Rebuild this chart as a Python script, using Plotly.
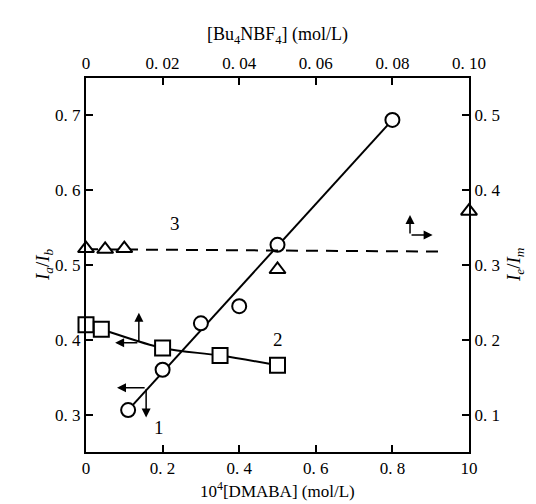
import plotly.graph_objects as go

# ---- data ----
# curve 1: I_a/I_b vs 10^4[DMABA] (bottom x, left y)
dmaba = [0.11, 0.20, 0.30, 0.40, 0.50, 0.80]
ratio1 = [0.306, 0.360, 0.422, 0.445, 0.527, 0.694]
fit1_x = [0.11, 0.80]
fit1_y = [0.306, 0.694]

# curve 2: I_a/I_b vs [Bu4NBF4] (top x, left y)
salt2 = [0.0, 0.004, 0.020, 0.035, 0.050]
ratio2 = [0.420, 0.414, 0.389, 0.379, 0.366]

# curve 3: I_e/I_m vs [Bu4NBF4] (top x, right y)
salt3 = [0.0, 0.005, 0.010, 0.050, 0.100]
ratio3 = [0.322, 0.321, 0.322, 0.294, 0.372]
dash3_x = [0.0, 0.093]
dash3_y = [0.321, 0.318]

bottom_ticks = [0, 0.2, 0.4, 0.6, 0.8, 1.0]
bottom_text = ["0", "0. 2", "0. 4", "0. 6", "0. 8", "10"]
top_ticks = [0, 0.02, 0.04, 0.06, 0.08, 0.10]
top_text = ["0", "0. 02", "0. 04", "0. 06", "0. 08", "0. 10"]
left_ticks = [0.3, 0.4, 0.5, 0.6, 0.7]
left_text = ["0. 3", "0. 4", "0. 5", "0. 6", "0. 7"]
right_ticks = [0.1, 0.2, 0.3, 0.4, 0.5]
right_text = ["0. 1", "0. 2", "0. 3", "0. 4", "0. 5"]

FONT = "Liberation Serif"
fig = go.Figure()

# curve 1
fig.add_trace(go.Scatter(x=fit1_x, y=fit1_y, mode="lines", xaxis="x", yaxis="y",
                         line=dict(color="black", width=2), showlegend=False))
fig.add_trace(go.Scatter(x=dmaba, y=ratio1, mode="markers", xaxis="x", yaxis="y",
                         marker=dict(symbol="circle", size=14, color="white",
                                     line=dict(color="black", width=2)),
                         showlegend=False, cliponaxis=False))
# curve 2
fig.add_trace(go.Scatter(x=salt2, y=ratio2, mode="lines+markers", xaxis="x2", yaxis="y",
                         line=dict(color="black", width=2, shape="spline", smoothing=1.0),
                         marker=dict(symbol="square", size=15, color="white",
                                     line=dict(color="black", width=2)),
                         showlegend=False, cliponaxis=False))
# curve 3
fig.add_trace(go.Scatter(x=dash3_x, y=dash3_y, mode="lines", xaxis="x2", yaxis="y2",
                         line=dict(color="black", width=2, dash="12px,8px"), showlegend=False))
fig.add_trace(go.Scatter(x=salt3, y=ratio3, mode="markers", xaxis="x2", yaxis="y2",
                         marker=dict(symbol="triangle-up", size=14, color="white",
                                     line=dict(color="black", width=2)),
                         showlegend=False, cliponaxis=False))

ann = []
def arrow(x, y, ax, ay, xr, yr):
    ann.append(dict(x=x, y=y, ax=ax, ay=ay, xref=xr, yref=yr, axref=xr, ayref=yr,
                    text="", showarrow=True, arrowhead=2, arrowsize=1.2,
                    arrowwidth=1.5, arrowcolor="black"))

# curve 1 arrows: left & down
arrow(0.081, 0.336, 0.157, 0.336, "x", "y")
arrow(0.157, 0.296, 0.157, 0.336, "x", "y")
# curve 2 arrows: left & up
arrow(0.0076, 0.396, 0.0138, 0.396, "x2", "y")
arrow(0.0138, 0.436, 0.0138, 0.396, "x2", "y")
# curve 3 arrows: up & right
arrow(0.0846, 0.367, 0.0846, 0.340, "x2", "y2")
arrow(0.0905, 0.340, 0.0846, 0.340, "x2", "y2")

for txt, x, y in [("1", 0.19, 0.283), ("2", 0.50, 0.401), ("3", 0.232, 0.555)]:
    ann.append(dict(x=x, y=y, xref="x", yref="y", text=txt, showarrow=False,
                    font=dict(family=FONT, size=19, color="black")))

# axis titles
ann.append(dict(x=0, y=0.5, xref="paper", yref="paper", xshift=-56, textangle=-90,
                text="<i>I<sub>a</sub></i>/<i>I<sub>b</sub></i>", showarrow=False,
                font=dict(family=FONT, size=19, color="black")))
ann.append(dict(x=1, y=0.5, xref="paper", yref="paper", xshift=60, textangle=-90,
                text="<i>I<sub>e</sub></i>/<i>I<sub>m</sub></i>", showarrow=False,
                font=dict(family=FONT, size=19, color="black")))
ann.append(dict(x=0.5, y=0, xref="paper", yref="paper", yshift=-51,
                xanchor="center", yanchor="bottom",
                text="10<sup>4</sup>[DMABA] (mol/L)", showarrow=False,
                font=dict(family=FONT, size=17, color="black")))
ann.append(dict(x=0.5, y=1, xref="paper", yref="paper", yshift=43,
                xanchor="center", yanchor="middle",
                text="[Bu<sub>4</sub>NBF<sub>4</sub>] (mol/L)", showarrow=False,
                font=dict(family=FONT, size=18, color="black")))

tickfont = dict(family=FONT, size=17, color="black")
axis_common = dict(showgrid=False, zeroline=False, showline=True, linecolor="black",
                   linewidth=2, ticks="inside", ticklen=7, tickwidth=1.5,
                   tickcolor="black", tickfont=tickfont)

fig.update_layout(
    width=536, height=504,
    margin=dict(l=78, r=75, t=70, b=60),
    paper_bgcolor="white", plot_bgcolor="white",
    xaxis=dict(range=[0, 1.0], tickvals=bottom_ticks, ticktext=bottom_text,
               side="bottom", **axis_common),
    xaxis2=dict(range=[0, 0.1], tickvals=top_ticks, ticktext=top_text,
                overlaying="x", side="top", anchor="y", **axis_common),
    yaxis=dict(range=[0.25, 0.75], tickvals=left_ticks, ticktext=left_text,
               side="left", **axis_common),
    yaxis2=dict(range=[0.05, 0.55], tickvals=right_ticks, ticktext=right_text,
                overlaying="y", side="right", anchor="x", **axis_common),
    annotations=ann,
    showlegend=False,
)

fig.write_html("out.html")
